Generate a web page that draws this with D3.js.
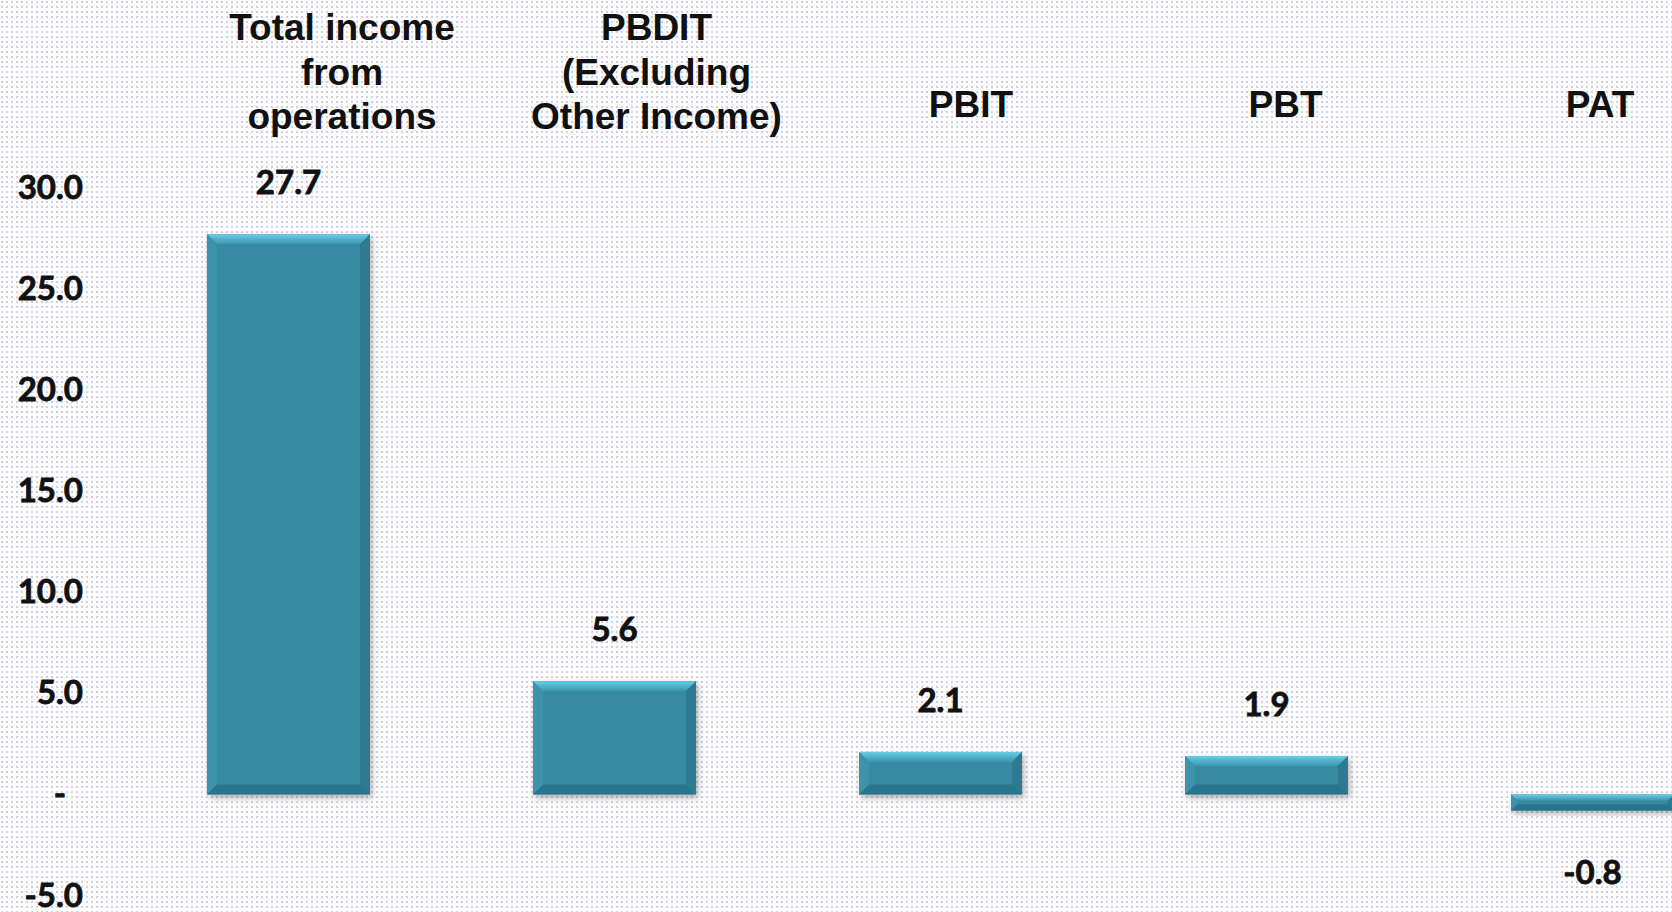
<!DOCTYPE html>
<html>
<head>
<meta charset="utf-8">
<script src="https://cdn.jsdelivr.net/npm/d3@7"></script>
<style>
  body { margin: 0; background: #fff; }
  svg { display: block; }
  .tick text { font-family: Lato, "Open Sans", sans-serif; font-weight: 700; font-size: 33px; fill: #111; stroke: #111; stroke-width: 0.8px; }
  .valueLabel { font-family: Lato, "Open Sans", sans-serif; font-weight: 700; font-size: 33px; fill: #111; stroke: #111; stroke-width: 0.8px; }
  .catLabel { font-family: "Liberation Sans", Arial, sans-serif; font-weight: 700; font-size: 37px; fill: #111; }
</style>
</head>
<body>
<svg width="1672" height="912"></svg>
<script>
// chart data
const categories = ['Total income from operations', 'PBDIT (Excluding Other Income)', 'PBIT', 'PBT', 'PAT']
const headerLines = [['Total income', 'from', 'operations'], ['PBDIT', '(Excluding', 'Other Income)'], ['PBIT'], ['PBT'], ['PAT']]
const values = [27.7, 5.6, 2.1, 1.9, -0.8]
const yTicks = [-5, 0, 5, 10, 15, 20, 25, 30]

const svgD3 = d3.select('svg')
const width = 1672
const height = 912

// plain hyphen for negatives, like the original
const fmt = d3.formatLocale({decimal: '.', thousands: ',', grouping: [3], currency: ['', ''], minus: '-'}).format('.1f')

const defs = svgD3.append('defs')

// dotted background
const pat = defs.append('pattern')
  .attr('id', 'dots')
  .attr('width', 5).attr('height', 5)
  .attr('patternUnits', 'userSpaceOnUse')
pat.append('rect').attr('width', 5).attr('height', 5).attr('fill', '#fdfdfe')
pat.append('rect').attr('x', 1).attr('y', 1).attr('width', 2).attr('height', 2).attr('fill', '#cfd0e2')

svgD3.append('rect').attr('width', width).attr('height', height).attr('fill', 'url(#dots)')

// bar shadow + bevel gradient
const shadow = defs.append('filter').attr('id', 'shadow')
  .attr('x', '-10%').attr('y', '-10%').attr('width', '130%').attr('height', '140%')
shadow.append('feDropShadow')
  .attr('dx', 2).attr('dy', 3).attr('stdDeviation', 3)
  .attr('flood-color', '#000').attr('flood-opacity', 0.3)

const topGrad = defs.append('linearGradient').attr('id', 'topBevel')
  .attr('x1', 0).attr('y1', 0).attr('x2', 0).attr('y2', 1)
topGrad.append('stop').attr('offset', '0%').attr('stop-color', '#66cde6')
topGrad.append('stop').attr('offset', '100%').attr('stop-color', '#3d95ae')

// scales
const x = d3.scaleBand()
  .domain(categories)
  .range([125.5, 1755.5])
  .paddingInner(0.5)
  .paddingOuter(0.25)

const headerX = d3.scalePoint()
  .domain(categories)
  .range([342, 1600])

const y = d3.scaleLinear()
  .domain([-5, 30])
  .range([895.5, 187.8])

// y axis, labels only
const yAxis = d3.axisLeft(y)
  .tickValues(yTicks)
  .tickSize(0)
  .tickPadding(0)
  .tickFormat(d => d === 0 ? '-' : fmt(d))

const axisG = svgD3.append('g')
  .attr('transform', 'translate(83,0)')
  .call(yAxis)
axisG.select('.domain').remove()
axisG.selectAll('.tick text')
  .attr('font-size', null).attr('font-family', null)
axisG.selectAll('.tick').filter(d => d === 0).select('text')
  .attr('x', -23)
  .attr('text-anchor', 'middle')

// bars
const bars = svgD3.selectAll('.bar')
  .data(values)
  .enter()
  .append('g')
  .attr('class', 'bar')
  .attr('filter', 'url(#shadow)')

bars.each(function(d, i) {
  const g = d3.select(this)
  const x0 = x(categories[i])
  const x1 = x0 + x.bandwidth()
  const y0 = Math.min(y(d), y(0))
  const y1 = Math.max(y(d), y(0))
  const b = Math.min(10, (y1 - y0) / 2.6)

  g.append('rect')
    .attr('x', x0).attr('y', y0)
    .attr('width', x1 - x0).attr('height', y1 - y0)
    .attr('fill', '#378aa3')
  // bevel edges
  g.append('polygon')
    .attr('points', [[x0, y0], [x1, y0], [x1 - b, y0 + b], [x0 + b, y0 + b]].join(' '))
    .attr('fill', 'url(#topBevel)')
  g.append('polygon')
    .attr('points', [[x0, y0], [x0 + b, y0 + b], [x0 + b, y1 - b], [x0, y1]].join(' '))
    .attr('fill', '#3e93ac')
  g.append('polygon')
    .attr('points', [[x1, y0], [x1, y1], [x1 - b, y1 - b], [x1 - b, y0 + b]].join(' '))
    .attr('fill', '#2d7a91')
  g.append('polygon')
    .attr('points', [[x0, y1], [x1, y1], [x1 - b, y1 - b], [x0 + b, y1 - b]].join(' '))
    .attr('fill', '#2b758c')
})

// value labels
svgD3.selectAll('.valueLabel')
  .data(values)
  .enter()
  .append('text')
  .attr('class', 'valueLabel')
  .attr('x', (d, i) => x(categories[i]) + x.bandwidth() / 2)
  .attr('y', d => d >= 0 ? y(d) - 52 : y(d) + 62)
  .attr('dy', '0.36em')
  .attr('text-anchor', 'middle')
  .text(d => fmt(d))

// category headers
const headers = svgD3.selectAll('.catLabel')
  .data(categories)
  .enter()
  .append('text')
  .attr('class', 'catLabel')
  .attr('text-anchor', 'middle')

headers.each(function(d, i) {
  const lines = headerLines[i]
  d3.select(this).selectAll('tspan')
    .data(lines)
    .enter()
    .append('tspan')
    .attr('x', headerX(d))
    .attr('y', (l, j) => lines.length === 1 ? 117 : 40 + j * 44.6)
    .text(l => l)
})
</script>
</body>
</html>
